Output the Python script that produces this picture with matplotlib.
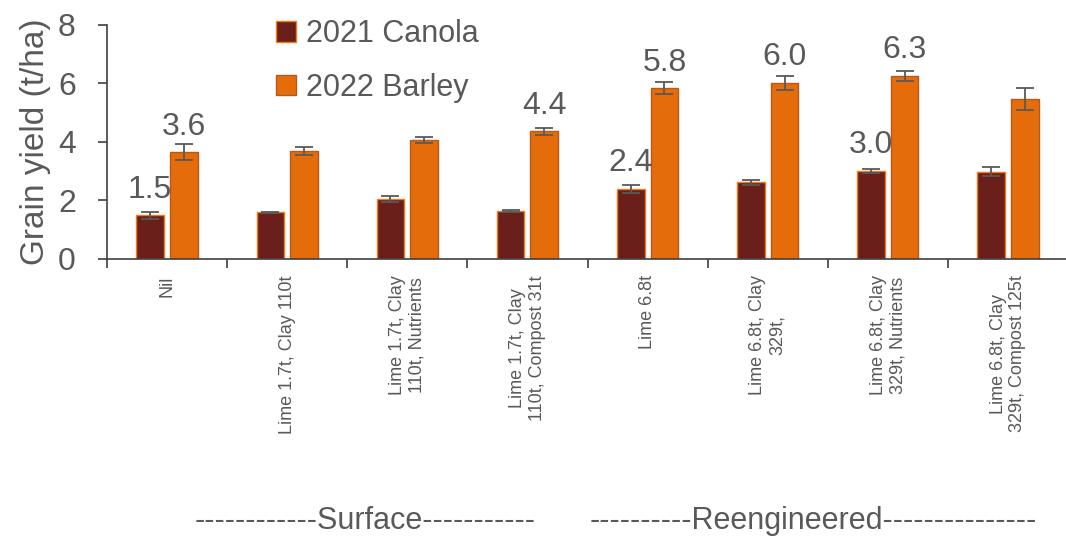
import numpy as np
import matplotlib
matplotlib.use("Agg")
import matplotlib.pyplot as plt

treatments = ['Nil', 'Lime 1.7t, Clay 110t', 'Lime 1.7t, Clay\n110t, Nutrients',
              'Lime 1.7t, Clay\n110t, Compost 31t', 'Lime 6.8t', 'Lime 6.8t, Clay\n329t,',
              'Lime 6.8t, Clay\n329t, Nutrients', 'Lime 6.8t, Clay\n329t, Compost 125t']
canola = [1.48, 1.58, 2.04, 1.62, 2.39, 2.61, 3.01, 2.98]
canola_err = [0.13, 0.03, 0.10, 0.03, 0.14, 0.08, 0.07, 0.14]
barley = [3.65, 3.67, 4.05, 4.36, 5.83, 6.02, 6.26, 5.46]
barley_err = [0.26, 0.14, 0.10, 0.12, 0.20, 0.23, 0.18, 0.37]
# which bars get a value label
canola_labels = ['1.5', None, None, None, '2.4', None, '3.0', None]
barley_labels = ['3.6', None, None, '4.4', '5.8', '6.0', '6.3', None]
groups = ['------------Surface-----------', '----------Reengineered---------------']

grey = '#595959'
plt.rcParams['font.family'] = ['Liberation Sans', 'DejaVu Sans']
plt.rcParams['text.color'] = grey

fig = plt.figure(figsize=(10.66, 5.38), dpi=100)
ax = fig.add_axes([107 / 1066, 1 - 258.5 / 538, 961 / 1066, 233.5 / 538])

x = np.arange(len(treatments))
w = 0.23
off = 0.14
err_kw = dict(ecolor=grey, elinewidth=1.3, capsize=6.5, capthick=1.3)
ax.bar(x - off, canola, w, color='#6B1F1A', edgecolor='#F07A1A', linewidth=1,
       yerr=canola_err, error_kw=err_kw, label='2021 Canola')
ax.bar(x + off, barley, w, color='#E46C0A', edgecolor='#B55A1A', linewidth=1,
       yerr=barley_err, error_kw=err_kw, label='2022 Barley')

for i in range(len(treatments)):
    if canola_labels[i]:
        ax.annotate(canola_labels[i], (x[i] - off, canola[i]), xytext=(0, 12.5),
                    textcoords='offset points', ha='center', va='baseline', fontsize=23, color=grey)
    if barley_labels[i]:
        ax.annotate(barley_labels[i], (x[i] + off, barley[i]), xytext=(0, 12.5),
                    textcoords='offset points', ha='center', va='baseline', fontsize=23, color=grey)

ax.set_xlim(-0.5, 7.5)
ax.set_ylim(0, 8)
ax.set_yticks([0, 2, 4, 6, 8])
ax.tick_params(axis='y', labelsize=23, labelcolor=grey, length=6.5, width=1.2, color='#404040', pad=16)
ax.set_xticks(x)
ax.set_xticklabels(treatments, rotation=90, fontsize=13, color=grey,
                   ha='center', va='top', multialignment='center')
ax.tick_params(axis='x', which='major', length=0, pad=12)
ax.set_xticks(np.arange(-0.5, 8, 1), minor=True)
ax.tick_params(axis='x', which='minor', length=6.5, width=1.2, color='#404040')
ax.set_ylabel('Grain yield (t/ha)', fontsize=24, color=grey, labelpad=5)

for s in ['top', 'right']:
    ax.spines[s].set_visible(False)
for s in ['left', 'bottom']:
    ax.spines[s].set_color('#404040')
    ax.spines[s].set_linewidth(1.2)

fig.legend(loc='upper left', bbox_to_anchor=(276 / 1066, 1 - 19 / 538), frameon=False,
           fontsize=22, handlelength=0.66, handleheight=0.66, handletextpad=0.33,
           labelspacing=0.78, borderpad=0, borderaxespad=0)

fig.text(365 / 1066, 1 - 521 / 538, groups[0], ha='center', va='center', fontsize=22, color=grey)
fig.text(813 / 1066, 1 - 521 / 538, groups[1], ha='center', va='center', fontsize=22, color=grey)

plt.savefig('out.png', dpi=100)
